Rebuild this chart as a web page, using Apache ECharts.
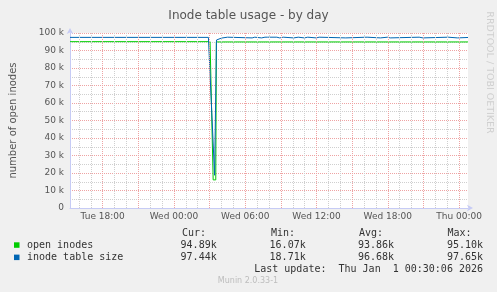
<!DOCTYPE html>
<html><head><meta charset="utf-8">
<script src="https://cdn.jsdelivr.net/npm/echarts@6/dist/echarts.min.js"></script>
<style>html,body{margin:0;padding:0;background:#f0f0f0;}#c{width:497px;height:292px;}</style>
</head><body><div id="c"></div>
<script>
// ---- data (hours relative to Wed 00:00, values in thousands) ----
const chartTitle = 'Inode table usage - by day';
const yAxisName = 'number of open inodes';
const tickHours = [-6, 0, 6, 12, 18, 24];
const tickLabels = ['Tue 18:00', 'Wed 00:00', 'Wed 06:00', 'Wed 12:00', 'Wed 18:00', 'Thu 00:00'];
const seriesNames = ['open inodes', 'inode table size'];

const openHours  = [-8.75, 3.04, 3.30, 3.52, 3.57, 24.75];
const openValues = [95.05, 95.05, 16.07, 16.07, 94.89, 94.89];

const sizeHours  = [-8.75, 2.9, 3.0, 3.06, 3.42, 3.5, 3.58, 3.7, 4.0, 4.08, 4.5, 4.58,
                    6.58, 6.66, 6.8, 6.88, 7.38, 7.46, 7.66, 7.74, 7.8, 7.88, 8.66, 8.74,
                    8.9, 8.98, 9.2, 9.28, 10.08, 10.16, 10.46, 10.54, 10.98, 11.06, 11.26, 11.34,
                    11.98, 12.06, 12.22, 12.3, 14.46, 14.54, 16.26, 16.34, 17.38, 17.46,
                    17.98, 18.06, 18.2, 18.28, 20.64, 20.72, 20.96, 21.04, 23.08, 23.16, 23.86, 23.94, 24.75];
const sizeValues = [97.5, 97.5, 97.3, 97.0, 18.71, 18.71, 96.0, 97.1, 97.1, 97.6, 97.6, 97.2,
                    97.2, 97.6, 97.6, 97.2, 97.2, 97.6, 97.6, 97.2, 97.2, 97.6, 97.6, 97.2,
                    97.2, 97.6, 97.6, 97.2, 97.2, 97.6, 97.6, 97.2, 97.2, 97.6, 97.6, 97.2,
                    97.2, 97.6, 97.6, 97.2, 97.2, 97.6, 97.6, 97.2, 97.2, 97.6,
                    97.6, 97.2, 97.2, 97.6, 97.6, 97.2, 97.2, 97.6, 97.6, 97.2, 97.2, 97.6, 97.44];

const statHeaders = ['Cur:', 'Min:', 'Avg:', 'Max:'];
const curValues = ['94.89k', '97.44k'];
const minValues = ['16.07k', '18.71k'];
const avgValues = ['93.86k', '96.68k'];
const maxValues = ['95.10k', '97.65k'];
const lastUpdate = 'Last update:  Thu Jan  1 00:30:06 2026';
const versionText = 'Munin 2.0.33-1';
const watermark = 'RRDTOOL / TOBI OETIKER';

// ---- styling ----
const colors = ['#00cc00', '#0066b3'];
const MAJOR = '#eea3a3';
const MINOR = '#cfcfcf';
const AXIS = '#c6cbf5';
const yGridColors = [MAJOR, MINOR];

// vertical grid: one dotted line per hour, major every 3 hours
const xGridLines = [];
for (let h = -8; h <= 24; h++) {
  xGridLines.push({xAxis: h, lineStyle: {color: h % 3 === 0 ? MAJOR : MINOR, width: 1, type: [1, 1]}});
}

const zip = (xs, ys) => xs.map((x, i) => [x, ys[i]]);
const mono = '10px "DejaVu Sans Mono"';
const statCols = [[182, 216.7], [271, 305.7], [359, 394], [447.5, 483]];
const statRows = [curValues, minValues, avgValues, maxValues];
const graphics = [];
statHeaders.forEach((h, i) => graphics.push({type: 'text', style: {text: h, x: statCols[i][0], y: 233, font: mono, fill: '#333', verticalAlign: 'middle'}}));
seriesNames.forEach((n, r) => {
  const y = 245 + r * 12.3;
  graphics.push({type: 'rect', shape: {x: 14, y: y - 2.7, width: 5.5, height: 5.5}, style: {fill: colors[r]}});
  graphics.push({type: 'text', style: {text: n, x: 27, y: y, font: mono, fill: '#333', verticalAlign: 'middle'}});
  statRows.forEach((vals, c) => graphics.push({type: 'text', style: {text: vals[r], x: statCols[c][1], y: y, font: mono, fill: '#333', align: 'right', verticalAlign: 'middle'}}));
});
graphics.push({type: 'text', style: {text: lastUpdate, x: 483, y: 269.3, font: mono, fill: '#333', align: 'right', verticalAlign: 'middle'}});
graphics.push({type: 'text', style: {text: versionText, x: 248, y: 281, font: '8px "DejaVu Sans"', fill: '#bdbdbd', align: 'center', verticalAlign: 'middle'}});
graphics.push({type: 'text', x: 489, y: 72.5, rotation: -Math.PI / 2, style: {text: watermark, x: 0, y: 0, font: '9.5px "DejaVu Sans"', fill: '#cfcfcf', align: 'center', verticalAlign: 'middle'}});

const chart = echarts.init(document.getElementById('c'), null, {renderer: 'canvas'});
chart.setOption({
  backgroundColor: '#f0f0f0',
  animation: false,
  textStyle: {fontFamily: 'DejaVu Sans'},
  title: {text: chartTitle, left: 'center', top: 5, textStyle: {fontSize: 12, fontWeight: 'normal', color: '#555', fontFamily: 'DejaVu Sans'}},
  grid: {left: 66, right: 29, top: 33, bottom: 84, show: true, backgroundColor: '#ffffff', borderWidth: 0},
  xAxis: {
    type: 'value', min: -8.75, max: 24.75, interval: 0.25,
    axisLine: {show: true, onZero: false, lineStyle: {color: AXIS, width: 1}, symbol: ['none', 'arrow'], symbolSize: [5, 6], symbolOffset: [0, 5]},
    axisTick: {show: false},
    axisLabel: {margin: 4, fontSize: 9, color: '#555', fontFamily: 'DejaVu Sans', showMinLabel: true, showMaxLabel: true,
      formatter: v => { const i = tickHours.findIndex(h => Math.abs(h - v) < 1e-6); return i >= 0 ? tickLabels[i] : ''; }},
    splitLine: {show: false}
  },
  yAxis: {
    type: 'value', min: 0, max: 100, interval: 5,
    name: yAxisName, nameLocation: 'middle', nameRotate: 90, nameGap: 52,
    nameTextStyle: {fontSize: 10, color: '#555', fontFamily: 'DejaVu Sans'},
    axisLine: {show: true, onZero: false, lineStyle: {color: AXIS, width: 1}, symbol: ['none', 'arrow'], symbolSize: [5, 6], symbolOffset: [0, 5]},
    axisTick: {show: false},
    axisLabel: {margin: 6, fontSize: 9, color: '#555', fontFamily: 'DejaVu Sans',
      formatter: v => (Math.round(v) % 10 !== 0) ? '' : (v === 0 ? '0' : v + ' k')},
    splitLine: {show: true, lineStyle: {color: yGridColors, width: 1, type: [1, 1]}}
  },
  series: [
    {name: 'grid', type: 'line', data: [], z: 1, silent: true,
     markLine: {silent: true, symbol: ['none', 'none'], label: {show: false}, animation: false, data: xGridLines}},
    {name: seriesNames[0], type: 'line', z: 3, data: zip(openHours, openValues), showSymbol: false, lineStyle: {color: colors[0], width: 1}, itemStyle: {color: colors[0]}},
    {name: seriesNames[1], type: 'line', z: 4, data: zip(sizeHours, sizeValues), showSymbol: false, lineStyle: {color: colors[1], width: 1}, itemStyle: {color: colors[1]}}
  ],
  graphic: graphics
});
</script>
</body></html>
